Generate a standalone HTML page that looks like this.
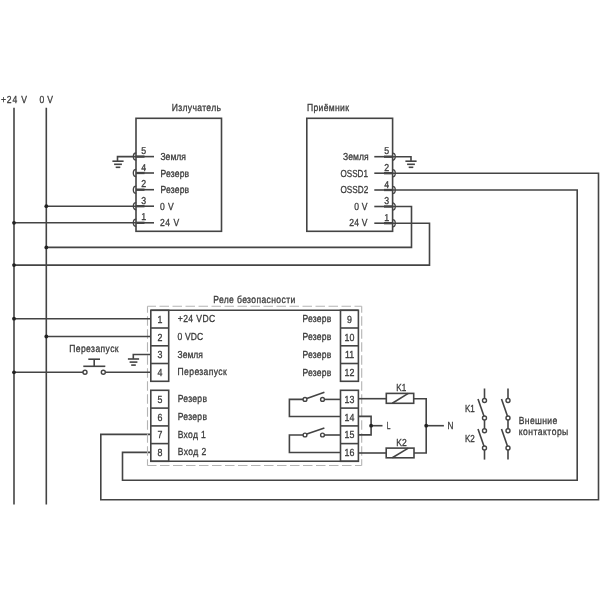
<!DOCTYPE html>
<html><head><meta charset="utf-8"><style>
html,body{margin:0;padding:0;background:#fff;width:600px;height:600px;overflow:hidden}
svg{display:block;will-change:transform}
text{font-family:"Liberation Sans",sans-serif;fill:#3a3a3a;stroke:#3a3a3a;stroke-width:0.3;-webkit-font-smoothing:antialiased;text-rendering:geometricPrecision}
</style></head><body>
<svg width="600" height="600" viewBox="0 0 600 600">
<g fill="none" stroke="#444" stroke-width="1.6">
<line x1="14" y1="107.8" x2="14" y2="504.5"/>
<line x1="46.3" y1="107.8" x2="46.3" y2="504.5"/>
<text transform="matrix(0.8400,0,0,1,1.00,103)" font-size="10.2" letter-spacing="1.006">+24 V</text>
<text transform="matrix(0.8400,0,0,1,39.50,103)" font-size="10.2" letter-spacing="0.386">0 V</text>
<rect x="136" y="118.3" width="85.5" height="113" />
<text transform="matrix(0.8400,0,0,1,171.80,111)" font-size="10.2" letter-spacing="0.411">Излучатель</text>
<line x1="136" y1="156.6" x2="154" y2="156.6"/>
<line x1="136" y1="156.6" x2="144.5" y2="156.6" stroke-width="2.3"/>
<path d="M136.2,153.0 A2.9,3.6 0 0 0 136.2,160.2" fill="none" stroke-width="1.3"/>
<text transform="matrix(0.8800,0,0,1,141.26,154.1)" font-size="10.0">5</text>
<line x1="136" y1="173.0" x2="154" y2="173.0"/>
<line x1="136" y1="173.0" x2="144.5" y2="173.0" stroke-width="2.3"/>
<path d="M136.2,169.4 A2.9,3.6 0 0 0 136.2,176.6" fill="none" stroke-width="1.3"/>
<text transform="matrix(0.8800,0,0,1,141.26,170.5)" font-size="10.0">4</text>
<line x1="136" y1="189.7" x2="154" y2="189.7"/>
<line x1="136" y1="189.7" x2="144.5" y2="189.7" stroke-width="2.3"/>
<path d="M136.2,186.1 A2.9,3.6 0 0 0 136.2,193.29999999999998" fill="none" stroke-width="1.3"/>
<text transform="matrix(0.8800,0,0,1,141.26,187.2)" font-size="10.0">2</text>
<line x1="136" y1="206.2" x2="154" y2="206.2"/>
<line x1="136" y1="206.2" x2="144.5" y2="206.2" stroke-width="2.3"/>
<path d="M136.2,202.6 A2.9,3.6 0 0 0 136.2,209.79999999999998" fill="none" stroke-width="1.3"/>
<text transform="matrix(0.8800,0,0,1,141.26,203.7)" font-size="10.0">3</text>
<line x1="136" y1="222.8" x2="154" y2="222.8"/>
<line x1="136" y1="222.8" x2="144.5" y2="222.8" stroke-width="2.3"/>
<path d="M136.2,219.20000000000002 A2.9,3.6 0 0 0 136.2,226.4" fill="none" stroke-width="1.3"/>
<text transform="matrix(0.8800,0,0,1,141.26,220.3)" font-size="10.0">1</text>
<text transform="matrix(0.8400,0,0,1,160.40,159.8)" font-size="10.2" letter-spacing="0.033">Земля</text>
<text transform="matrix(0.8400,0,0,1,160.40,176.5)" font-size="10.2" letter-spacing="0.227">Резерв</text>
<text transform="matrix(0.8400,0,0,1,160.40,193.2)" font-size="10.2" letter-spacing="0.227">Резерв</text>
<text transform="matrix(0.8400,0,0,1,160.00,209.8)" font-size="10.2" letter-spacing="0.535">0 V</text>
<text transform="matrix(0.8400,0,0,1,160.00,226.25)" font-size="10.2" letter-spacing="0.632">24 V</text>
<polyline points="136,156.6 117.5,156.6 117.5,161.2"/>
<line x1="112.4" y1="161.2" x2="123.6" y2="161.2"/>
<line x1="114.1" y1="164.29999999999998" x2="121.9" y2="164.29999999999998"/>
<line x1="115.7" y1="167.29999999999998" x2="120.3" y2="167.29999999999998"/>
<polyline points="136,206.2 46.3,206.2"/>
<circle cx="46.3" cy="206.2" r="1.9" fill="#222" stroke="none"/>
<polyline points="136,222.8 14,222.8"/>
<circle cx="14" cy="222.8" r="1.9" fill="#222" stroke="none"/>
<rect x="306.8" y="118.3" width="85.8" height="113" />
<text transform="matrix(0.8400,0,0,1,306.90,111.3)" font-size="10.2" letter-spacing="0.423">Приёмник</text>
<line x1="374.3" y1="156.7" x2="392.6" y2="156.7"/>
<line x1="384" y1="156.7" x2="392.6" y2="156.7" stroke-width="2.3"/>
<path d="M392.4,153.1 A2.9,3.6 0 0 1 392.4,160.29999999999998" fill="none" stroke-width="1.3"/>
<text transform="matrix(0.8800,0,0,1,384.26,154.2)" font-size="10.0">5</text>
<line x1="374.3" y1="173.2" x2="392.6" y2="173.2"/>
<line x1="384" y1="173.2" x2="392.6" y2="173.2" stroke-width="2.3"/>
<path d="M392.4,169.6 A2.9,3.6 0 0 1 392.4,176.79999999999998" fill="none" stroke-width="1.3"/>
<text transform="matrix(0.8800,0,0,1,384.26,170.7)" font-size="10.0">2</text>
<line x1="374.3" y1="190.0" x2="392.6" y2="190.0"/>
<line x1="384" y1="190.0" x2="392.6" y2="190.0" stroke-width="2.3"/>
<path d="M392.4,186.4 A2.9,3.6 0 0 1 392.4,193.6" fill="none" stroke-width="1.3"/>
<text transform="matrix(0.8800,0,0,1,384.26,187.5)" font-size="10.0">4</text>
<line x1="374.3" y1="206.5" x2="392.6" y2="206.5"/>
<line x1="384" y1="206.5" x2="392.6" y2="206.5" stroke-width="2.3"/>
<path d="M392.4,202.9 A2.9,3.6 0 0 1 392.4,210.1" fill="none" stroke-width="1.3"/>
<text transform="matrix(0.8800,0,0,1,384.26,204.0)" font-size="10.0">3</text>
<line x1="374.3" y1="223.2" x2="392.6" y2="223.2"/>
<line x1="384" y1="223.2" x2="392.6" y2="223.2" stroke-width="2.3"/>
<path d="M392.4,219.6 A2.9,3.6 0 0 1 392.4,226.79999999999998" fill="none" stroke-width="1.3"/>
<text transform="matrix(0.8800,0,0,1,384.26,220.7)" font-size="10.0">1</text>
<text transform="matrix(0.8400,0,0,1,343.10,159.8)" font-size="10.2" letter-spacing="0.033">Земля</text>
<text transform="matrix(0.7924,0,0,1,340.50,176.5)" font-size="10.2" letter-spacing="0.000">OSSD1</text>
<text transform="matrix(0.8040,0,0,1,340.50,192.8)" font-size="10.2" letter-spacing="0.000">OSSD2</text>
<text transform="matrix(0.8400,0,0,1,354.20,209.7)" font-size="10.2" letter-spacing="0.267">0 V</text>
<text transform="matrix(0.8400,0,0,1,349.20,226.3)" font-size="10.2" letter-spacing="0.275">24 V</text>
<polyline points="392.6,156.7 411,156.7 411,161.2"/>
<line x1="405.4" y1="161.2" x2="416.6" y2="161.2"/>
<line x1="407.1" y1="164.29999999999998" x2="414.9" y2="164.29999999999998"/>
<line x1="408.7" y1="167.29999999999998" x2="413.3" y2="167.29999999999998"/>
<polyline points="392.6,173.2 598.5,173.2 598.5,499.7 100.8,499.7 100.8,434.4 150.8,434.4"/>
<polyline points="392.6,190.0 577.2,190.0 577.2,480.3 122.5,480.3 122.5,452.4 150.8,452.4"/>
<polyline points="392.6,206.5 411.5,206.5 411.5,247.4 46.3,247.4"/>
<circle cx="46.3" cy="247.4" r="1.9" fill="#222" stroke="none"/>
<polyline points="392.6,223.2 429.5,223.2 429.5,265.1 14,265.1"/>
<circle cx="14" cy="265.1" r="1.9" fill="#222" stroke="none"/>
<line x1="147.5" y1="306.3" x2="361.7" y2="306.3" stroke="#b4b4b4" stroke-width="1.1" stroke-dasharray="9.5,3.5" stroke-dashoffset="1"/>
<line x1="147.5" y1="465.5" x2="361.7" y2="465.5" stroke="#b4b4b4" stroke-width="1.1" stroke-dasharray="9.5,3.5" stroke-dashoffset="0.5"/>
<line x1="147.5" y1="306.3" x2="147.5" y2="465.5" stroke="#b4b4b4" stroke-width="1.1" stroke-dasharray="9.5,3.5" stroke-dashoffset="3"/>
<line x1="361.7" y1="306.3" x2="361.7" y2="465.5" stroke="#b4b4b4" stroke-width="1.1" stroke-dasharray="9.5,3.5" stroke-dashoffset="3"/>
<text transform="matrix(0.8400,0,0,1,213.20,302.7)" font-size="10.2" letter-spacing="0.444">Реле безопасности</text>
<line x1="150.8" y1="310.3" x2="358.4" y2="310.3"/>
<line x1="150.8" y1="461.3" x2="358.4" y2="461.3"/>
<rect x="150.8" y="310.3" width="17.9" height="71.0" />
<line x1="150.8" y1="328.0" x2="168.70000000000002" y2="328.0"/>
<line x1="150.8" y1="345.8" x2="168.70000000000002" y2="345.8"/>
<line x1="150.8" y1="363.5" x2="168.70000000000002" y2="363.5"/>
<rect x="340.5" y="310.3" width="17.9" height="71.0" />
<line x1="340.5" y1="328.0" x2="358.4" y2="328.0"/>
<line x1="340.5" y1="345.8" x2="358.4" y2="345.8"/>
<line x1="340.5" y1="363.5" x2="358.4" y2="363.5"/>
<rect x="150.8" y="390.3" width="17.9" height="71.0" />
<line x1="150.8" y1="408.1" x2="168.70000000000002" y2="408.1"/>
<line x1="150.8" y1="425.9" x2="168.70000000000002" y2="425.9"/>
<line x1="150.8" y1="443.6" x2="168.70000000000002" y2="443.6"/>
<rect x="340.5" y="390.3" width="17.9" height="71.0" />
<line x1="340.5" y1="408.1" x2="358.4" y2="408.1"/>
<line x1="340.5" y1="425.9" x2="358.4" y2="425.9"/>
<line x1="340.5" y1="443.6" x2="358.4" y2="443.6"/>
<text transform="matrix(0.8600,0,0,1,157.54,322.75)" font-size="10.3">1</text>
<text transform="matrix(0.8600,0,0,1,347.04,322.75)" font-size="10.3">9</text>
<text transform="matrix(0.8600,0,0,1,157.54,402.80000000000007)" font-size="10.3">5</text>
<text transform="matrix(0.8600,0,0,1,344.58,402.80000000000007)" font-size="10.3">13</text>
<text transform="matrix(0.8600,0,0,1,157.54,340.5)" font-size="10.3">2</text>
<text transform="matrix(0.8600,0,0,1,344.58,340.5)" font-size="10.3">10</text>
<text transform="matrix(0.8600,0,0,1,157.54,420.6)" font-size="10.3">6</text>
<text transform="matrix(0.8600,0,0,1,344.58,420.6)" font-size="10.3">14</text>
<text transform="matrix(0.8600,0,0,1,157.54,358.25)" font-size="10.3">3</text>
<text transform="matrix(0.8600,0,0,1,344.89,358.25)" font-size="10.3">11</text>
<text transform="matrix(0.8600,0,0,1,157.54,438.35)" font-size="10.3">7</text>
<text transform="matrix(0.8600,0,0,1,344.58,438.35)" font-size="10.3">15</text>
<text transform="matrix(0.8600,0,0,1,157.54,376.0)" font-size="10.3">4</text>
<text transform="matrix(0.8600,0,0,1,344.58,376.0)" font-size="10.3">12</text>
<text transform="matrix(0.8600,0,0,1,157.54,456.05000000000007)" font-size="10.3">8</text>
<text transform="matrix(0.8600,0,0,1,344.58,456.05000000000007)" font-size="10.3">16</text>
<text transform="matrix(0.8400,0,0,1,177.80,322.25)" font-size="10.2" letter-spacing="0.476">+24 VDC</text>
<text transform="matrix(0.8400,0,0,1,177.60,340.1)" font-size="10.2" letter-spacing="0.139">0 VDC</text>
<text transform="matrix(0.8337,0,0,1,177.60,357.8)" font-size="10.2" letter-spacing="0.000">Земля</text>
<text transform="matrix(0.8400,0,0,1,177.60,375.3)" font-size="10.2" letter-spacing="0.439">Перезапуск</text>
<text transform="matrix(0.8400,0,0,1,177.70,402.3)" font-size="10.2" letter-spacing="0.346">Резерв</text>
<text transform="matrix(0.8400,0,0,1,177.70,420.1)" font-size="10.2" letter-spacing="0.346">Резерв</text>
<text transform="matrix(0.8400,0,0,1,177.70,437.7)" font-size="10.2" letter-spacing="0.353">Вход 1</text>
<text transform="matrix(0.8400,0,0,1,177.70,455.4)" font-size="10.2" letter-spacing="0.496">Вход 2</text>
<text transform="matrix(0.8400,0,0,1,302.60,322.3)" font-size="10.2" letter-spacing="0.203">Резерв</text>
<text transform="matrix(0.8400,0,0,1,302.60,340.1)" font-size="10.2" letter-spacing="0.203">Резерв</text>
<text transform="matrix(0.8400,0,0,1,302.60,357.8)" font-size="10.2" letter-spacing="0.203">Резерв</text>
<text transform="matrix(0.8400,0,0,1,302.60,375.5)" font-size="10.2" letter-spacing="0.203">Резерв</text>
<polyline points="14,318.7 150.8,318.7"/>
<circle cx="14" cy="318.7" r="1.9" fill="#222" stroke="none"/>
<polyline points="46.3,336.5 150.8,336.5"/>
<circle cx="46.3" cy="336.5" r="1.9" fill="#222" stroke="none"/>
<polyline points="150.8,354.5 133.3,354.5 133.3,359"/>
<line x1="127.9" y1="359" x2="139.1" y2="359"/>
<line x1="129.6" y1="362.1" x2="137.4" y2="362.1"/>
<line x1="131.2" y1="365.1" x2="135.8" y2="365.1"/>
<polyline points="14,372.3 83,372.3"/>
<circle cx="14" cy="372.3" r="1.9" fill="#222" stroke="none"/>
<circle cx="85" cy="372.3" r="2.0" fill="#fff" stroke-width="1.4"/>
<circle cx="103.3" cy="372.3" r="2.0" fill="#fff" stroke-width="1.4"/>
<polyline points="105.3,372.3 150.8,372.3"/>
<line x1="83.3" y1="366.3" x2="105.3" y2="366.3"/>
<line x1="94.2" y1="366.3" x2="94.2" y2="359.2"/>
<line x1="88.3" y1="359.2" x2="100" y2="359.2"/>
<text transform="matrix(0.8400,0,0,1,69.20,351.7)" font-size="10.2" letter-spacing="0.479">Перезапуск</text>
<polyline points="340.5,399.4 324.4,399.4"/>
<circle cx="322.5" cy="399.4" r="1.9" fill="#fff" stroke-width="1.4"/>
<circle cx="305" cy="399.4" r="1.9" fill="#fff" stroke-width="1.4"/>
<line x1="306.8" y1="398.5" x2="324.4" y2="392.3"/>
<polyline points="303.1,399.4 289.4,399.4 289.4,416.5 340.5,416.5"/>
<polyline points="340.5,435.0 324.4,435.0"/>
<circle cx="322.5" cy="435.0" r="1.9" fill="#fff" stroke-width="1.4"/>
<circle cx="305" cy="435.0" r="1.9" fill="#fff" stroke-width="1.4"/>
<line x1="306.8" y1="434.1" x2="324.4" y2="428.1"/>
<polyline points="303.1,435.0 289.4,435.0 289.4,452.5 340.5,452.5"/>
<polyline points="358.4,398.7 386.3,398.7"/>
<rect x="386.3" y="393.4" width="27.4" height="9.9" />
<line x1="392.3" y1="403.3" x2="408.3" y2="393.4"/>
<text transform="matrix(0.8003,0,0,1,396.30,391.3)" font-size="10.2" letter-spacing="0.000">K1</text>
<polyline points="413.7,398.7 426.2,398.7 426.2,453.0 414,453.0"/>
<polyline points="358.4,453.0 386.2,453.0"/>
<rect x="386.2" y="448.1" width="27.8" height="9.7" />
<line x1="392.3" y1="457.8" x2="408.3" y2="448.1"/>
<text transform="matrix(0.8363,0,0,1,396.25,445.7)" font-size="10.2" letter-spacing="0.000">K2</text>
<line x1="426.2" y1="425.7" x2="443.9" y2="425.7"/>
<circle cx="426.2" cy="425.7" r="1.9" fill="#222" stroke="none"/>
<text transform="matrix(0.8034,0,0,1,447.60,429.4)" font-size="10.2" letter-spacing="0.000">N</text>
<polyline points="358.4,416.4 371.1,416.4 371.1,434.9 358.4,434.9"/>
<line x1="371.1" y1="425.7" x2="382.5" y2="425.7"/>
<circle cx="371.1" cy="425.7" r="1.9" fill="#222" stroke="none"/>
<text transform="matrix(0.6536,0,0,1,386.70,429.4)" font-size="10.2" letter-spacing="0.000">L</text>
<line x1="484.5" y1="388.5" x2="484.5" y2="398.6"/>
<circle cx="484.5" cy="400.5" r="2.0" fill="#fff" stroke-width="1.4"/>
<circle cx="484.5" cy="418" r="2.0" fill="#fff" stroke-width="1.4"/>
<line x1="484.5" y1="420" x2="484.5" y2="428.7"/>
<circle cx="484.5" cy="430.7" r="2.0" fill="#fff" stroke-width="1.4"/>
<circle cx="484.5" cy="448" r="2.0" fill="#fff" stroke-width="1.4"/>
<line x1="484.5" y1="450" x2="484.5" y2="459.6"/>
<line x1="484.0" y1="416.2" x2="478.0" y2="399.1"/>
<line x1="484.0" y1="446.2" x2="478.0" y2="428.9"/>
<line x1="508.0" y1="388.5" x2="508.0" y2="398.6"/>
<circle cx="508.0" cy="400.5" r="2.0" fill="#fff" stroke-width="1.4"/>
<circle cx="508.0" cy="418" r="2.0" fill="#fff" stroke-width="1.4"/>
<line x1="508.0" y1="420" x2="508.0" y2="428.7"/>
<circle cx="508.0" cy="430.7" r="2.0" fill="#fff" stroke-width="1.4"/>
<circle cx="508.0" cy="448" r="2.0" fill="#fff" stroke-width="1.4"/>
<line x1="508.0" y1="450" x2="508.0" y2="459.6"/>
<line x1="507.5" y1="416.2" x2="501.5" y2="399.1"/>
<line x1="507.5" y1="446.2" x2="501.5" y2="428.9"/>
<text transform="matrix(0.7923,0,0,1,464.90,412.3)" font-size="10.2" letter-spacing="0.000">K1</text>
<text transform="matrix(0.7923,0,0,1,464.90,442.3)" font-size="10.2" letter-spacing="0.000">K2</text>
<text transform="matrix(0.8400,0,0,1,518.75,423.7)" font-size="10.2" letter-spacing="0.422">Внешние</text>
<text transform="matrix(0.8400,0,0,1,518.75,434.8)" font-size="10.2" letter-spacing="0.565">контакторы</text>
</g>
</svg>
</body></html>
